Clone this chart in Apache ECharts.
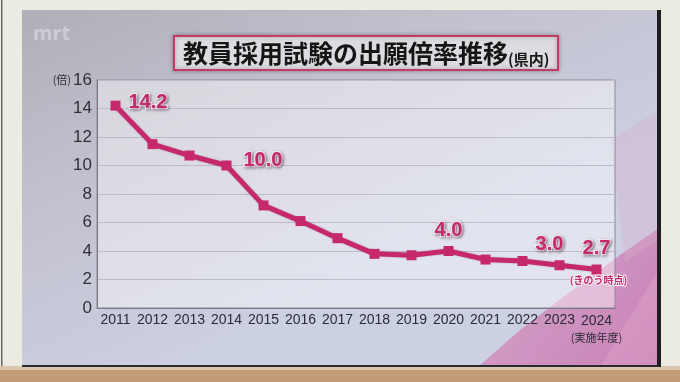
<!DOCTYPE html>
<html>
<head>
<meta charset="utf-8">
<script src="https://cdn.jsdelivr.net/npm/echarts@6/dist/echarts.min.js"></script>
<style>
html,body{margin:0;padding:0;background:#ebebe2;}
#c{width:680px;height:382px;}
</style>
</head>
<body>
<div id="c"></div>
<script>
const years = ['2011','2012','2013','2014','2015','2016','2017','2018','2019','2020','2021','2022','2023','2024'];
const ratios = [14.2, 11.5, 10.7, 10.0, 7.2, 6.1, 4.9, 3.8, 3.7, 4.0, 3.4, 3.3, 3.0, 2.7];
const labeledYears = ['2011','2014','2020','2023','2024'];
const yTicks = [0, 2, 4, 6, 8, 10, 12, 14, 16];
const titleText = '教員採用試験の出願倍率推移';
const titleSub = '(県内)';
const yUnit = '(倍)';
const lastYearNote = '(実施年度)';
const latestNote = '(きのう時点)';

const PINK = '#c6296b';
const sans = '"Liberation Sans",Arial,sans-serif';
const jp = '"Noto Sans CJK JP","Noto Sans",sans-serif';

const labelStyle = {
  show: true,
  fontFamily: sans,
  fontWeight: 'bold',
  fontSize: 20,
  color: PINK,
  textBorderColor: '#f6eef4',
  textBorderWidth: 2.5,
  textShadowColor: 'rgba(60,20,40,0.45)',
  textShadowBlur: 3,
  textShadowOffsetX: 1,
  textShadowOffsetY: 1,
  formatter: p => p.value.toFixed(1)
};
const labelPlacement = {
  '2011': {position: 'right', distance: 8, offset: [0, -3]},
  '2014': {position: 'right', distance: 12, offset: [0, -5]},
  '2020': {position: 'top', distance: 6},
  '2023': {position: 'top', distance: 6, offset: [-10, 0]},
  '2024': {position: 'top', distance: 6}
};

const seriesData = years.map((y, i) => {
  const item = {value: ratios[i]};
  if (labeledYears.includes(y)) {
    item.label = Object.assign({}, labelStyle, labelPlacement[y]);
  }
  return item;
});

const chart = echarts.init(document.getElementById('c'), null, {renderer: 'canvas'});
chart.setOption({
  backgroundColor: '#ebebe2',
  animation: false,
  graphic: [
    {type: 'rect', z: -20, shape: {x: 0, y: 366, width: 680, height: 16}, style: {fill: '#c29b78'}},
    {type: 'rect', z: -19, shape: {x: 0, y: 366, width: 680, height: 4}, style: {fill: '#d9c6ad'}},
    {type: 'rect', z: -18, shape: {x: 1, y: 0, width: 1.5, height: 366}, style: {fill: '#6a6a66'}},
    {type: 'rect', z: -17, shape: {x: 22, y: 10, width: 637, height: 357},
      style: {fill: new echarts.graphic.LinearGradient(0, 0, 0.25, 1, [
        {offset: 0, color: '#b1aeb9'},
        {offset: 0.45, color: '#c2c0cd'},
        {offset: 1, color: '#ccd0e3'}
      ])}},
    {type: 'polygon', z: -16, shape: {points: [[478, 367], [520, 330], [570, 292], [620, 255], [659, 228], [659, 367]]},
      style: {fill: new echarts.graphic.LinearGradient(0, 0, 1, 1, [
        {offset: 0, color: 'rgba(214,150,195,0.75)'},
        {offset: 1, color: 'rgba(200,120,175,0.9)'}
      ])}},
    {type: 'polygon', z: -15, shape: {points: [[600, 367], [640, 300], [659, 270], [659, 367]]},
      style: {fill: 'rgba(230,170,210,0.35)'}},
    {type: 'polygon', z: -15, shape: {points: [[610, 140], [659, 110], [659, 240], [625, 262]]},
      style: {fill: 'rgba(215,175,205,0.35)'}},
    {type: 'rect', z: -14, shape: {x: 657, y: 10, width: 4, height: 357}, style: {fill: '#1e1e22'}},
    {type: 'rect', z: -14, shape: {x: 22, y: 365, width: 637, height: 2}, style: {fill: '#2a2a30'}},
    {type: 'text', z: -13, left: 33, top: 24,
      style: {text: 'mrt', fontSize: 20, fontWeight: 'bold', fontFamily: '"Noto Sans",sans-serif', fill: 'rgba(235,235,240,0.45)'}}
  ],
  title: {
    text: titleText + '{s|' + titleSub + '}',
    left: 174,
    top: 36,
    padding: [3, 9, 3, 9],
    backgroundColor: '#dcdbe0',
    borderColor: '#c23d66',
    borderWidth: 2,
    shadowColor: 'rgba(0,0,0,0.3)',
    shadowBlur: 4,
    textStyle: {
      fontFamily: jp,
      fontWeight: 'bold',
      fontSize: 25,
      lineHeight: 28,
      color: '#151515',
      rich: {
        s: {fontFamily: jp, fontWeight: 'bold', fontSize: 15, color: '#151515', lineHeight: 28, verticalAlign: 'bottom'}
      }
    }
  },
  grid: {
    left: 97, right: 65, top: 80, bottom: 74,
    show: true,
    borderColor: '#8c8a95',
    borderWidth: 1,
    backgroundColor: 'rgba(255,255,255,0.42)'
  },
  xAxis: {
    type: 'category',
    data: years,
    boundaryGap: true,
    axisTick: {show: false},
    axisLine: {lineStyle: {color: '#7c7a86', width: 1}},
    axisLabel: {
      margin: 5,
      fontFamily: sans,
      fontSize: 14,
      color: '#2b2b3a',
      interval: 0,
      formatter: v => v === years[years.length - 1] ? '{a|' + v + '}\n{b|' + lastYearNote + '}' : v,
      rich: {
        a: {fontFamily: sans, fontSize: 14, color: '#2b2b3a', lineHeight: 17},
        b: {fontFamily: jp, fontSize: 11, color: '#2b2b3a', lineHeight: 15}
      }
    }
  },
  yAxis: {
    type: 'value',
    min: yTicks[0],
    max: yTicks[yTicks.length - 1],
    interval: yTicks[1] - yTicks[0],
    axisLine: {show: true, lineStyle: {color: '#7c7a86'}},
    axisTick: {show: false},
    splitLine: {lineStyle: {color: '#bdbbc7', width: 1}},
    axisLabel: {
      margin: 5,
      fontFamily: sans,
      fontSize: 17,
      color: '#2f2f38',
      formatter: v => v === yTicks[yTicks.length - 1] ? '{u|' + yUnit + '}{v|' + v + '}' : String(v),
      rich: {
        u: {fontFamily: jp, fontSize: 11, color: '#2f2f38', padding: [0, 2, 0, 0]},
        v: {fontFamily: sans, fontSize: 17, color: '#2f2f38'}
      }
    }
  },
  series: [{
    type: 'line',
    data: seriesData,
    symbol: 'rect',
    symbolSize: 10,
    lineStyle: {color: PINK, width: 5, shadowColor: 'rgba(80,20,50,0.3)', shadowBlur: 2},
    itemStyle: {color: PINK},
    label: {show: false},
    markPoint: {
      symbol: 'rect',
      symbolSize: 1,
      itemStyle: {color: 'rgba(0,0,0,0)'},
      data: [{coord: [years[years.length - 1], ratios[ratios.length - 1]], value: latestNote}],
      label: {
        show: true,
        position: 'inside',
        offset: [2, 11],
        formatter: latestNote,
        fontFamily: jp,
        fontWeight: 'bold',
        fontSize: 10,
        color: PINK,
        textBorderColor: '#f6eef4',
        textBorderWidth: 2
      }
    }
  }]
});
</script>
</body>
</html>
